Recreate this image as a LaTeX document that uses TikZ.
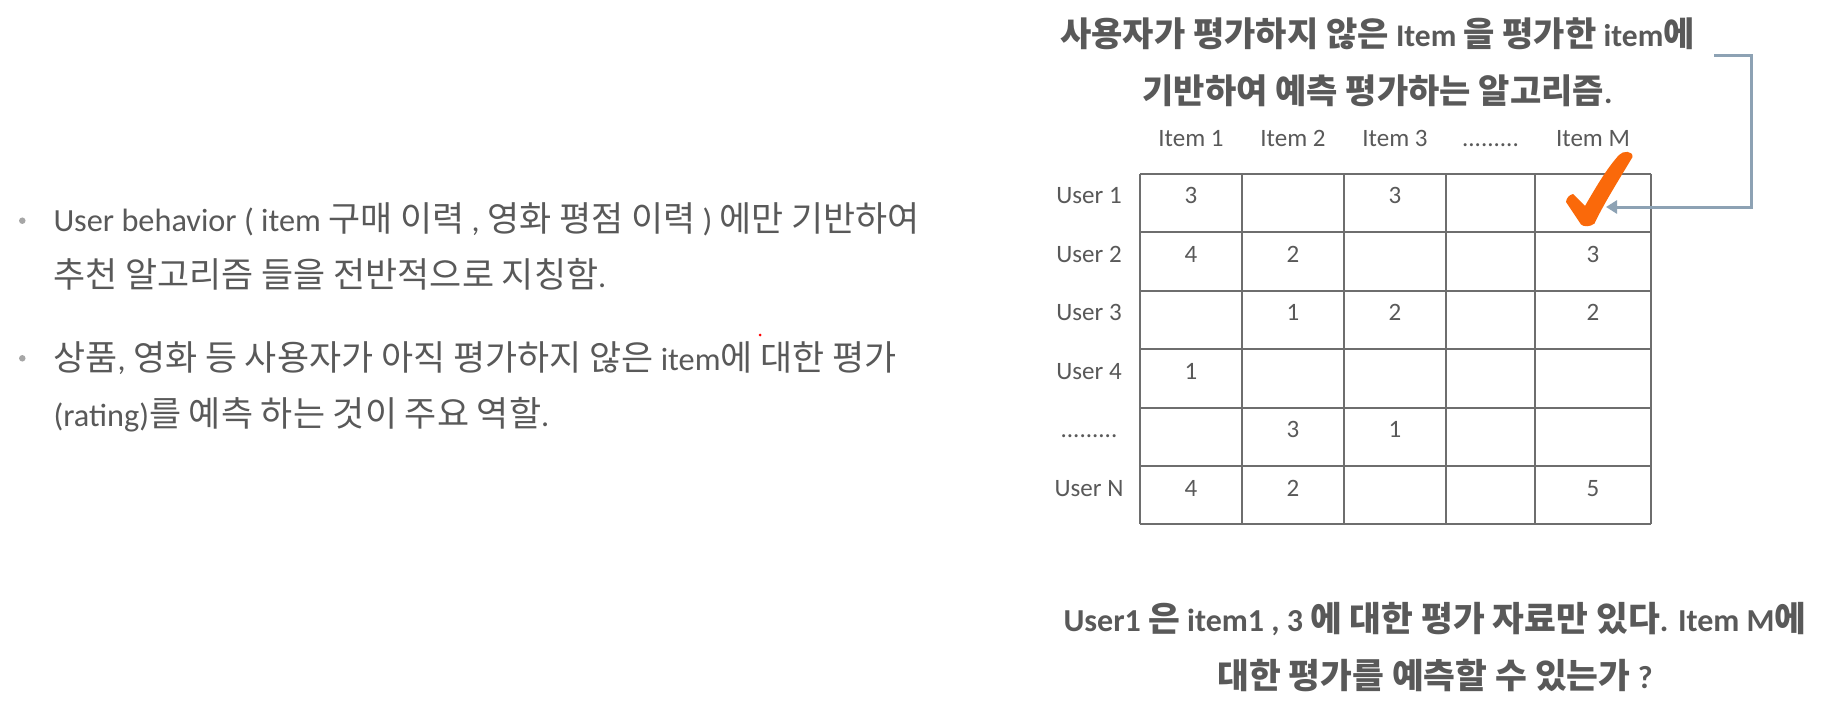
\documentclass[tikz,border=0pt]{standalone}
\usepackage{fontspec}
\setmainfont{Carlito}
\newfontfamily\kr[Scale=1.08]{Noto Sans CJK KR}
\usetikzlibrary{arrows.meta}
\definecolor{tc}{HTML}{595959}
\definecolor{gridc}{HTML}{6E6E6E}
\definecolor{arrc}{HTML}{8DA2B4}
\definecolor{chkc}{RGB}{250,105,10}
\definecolor{bulc}{HTML}{A6A6A6}
\newcommand\fsz[1]{\fontsize{#1}{#1}\selectfont}
\begin{document}
\begin{tikzpicture}[x=1pt,y=-1pt,
  txt/.style={text=tc, inner sep=0pt, outer sep=0pt},
  body/.style={txt, anchor=base west, font=\fsz{32.3}},
  head/.style={txt, anchor=base, font=\fsz{31.5}\bfseries},
  foot/.style={txt, anchor=base, font=\fsz{32}\bfseries},
  cell/.style={txt, anchor=base, font=\fsz{25}},
  gridline/.style={draw=gridc, line width=2.2pt},
  conn/.style={draw=arrc, line width=3pt, -{Triangle[length=11pt,width=13pt]}},
  bullet/.style={circle, fill=bulc, inner sep=0pt, minimum size=6.5pt}]
\useasboundingbox[fill=white] (0,0) rectangle (1824,706);

% left bullet text
\node[bullet] (b1) at (22.3,220.7) {};
\node[bullet] (b2) at (22.3,358.3) {};
\node[body] (l1) at (53.5,231) {User behavior ( item {\kr 구매 이력} , {\kr 영화 평점 이력} ) {\kr 에만 기반하여}};
\node[body] (l2) at (53.5,287.5) {{\kr 추천 알고리즘 들을 전반적으로 지칭함}.};
\node[body] (l3) at (53.5,370.5) {{\kr 상품}, {\kr 영화 등 사용자가 아직 평가하지 않은} item{\kr 에 대한 평가}};
\node[body] (l4) at (53.5,426.5) {(rating){\kr 를 예측 하는 것이 주요 역할}.};
\node[circle, fill=red, inner sep=0pt, minimum size=3pt] (rd) at (760,335) {};

% title
\node[head] (t1) at (1377.5,46.7) {{\kr 사용자가 평가하지 않은} Item {\kr 을 평가한} item{\kr 에}};
\node[head] (t2) at (1377.5,104) {{\kr 기반하여 예측 평가하는 알고리즘}.};

% column headers
\node[cell] (h1) at (1191,147) {Item 1};
\node[cell] (h2) at (1293,147) {Item 2};
\node[cell] (h3) at (1395,147) {Item 3};
\node[cell] (h4) at (1490.5,147) {.........};
\node[cell] (h5) at (1593,147) {Item M};

% row labels
\node[cell] (r1) at (1089,204) {User 1};
\node[cell] (r2) at (1089,262.3) {User 2};
\node[cell] (r3) at (1089,320.7) {User 3};
\node[cell] (r4) at (1089,379.3) {User 4};
\node[cell] (r5) at (1089,437.7) {.........};
\node[cell] (r6) at (1089,496.3) {User N};

% grid
\foreach \x in {1140,1242,1344,1446,1535,1651}
  \draw[gridline] (\x,174) -- (\x,524.3);
\foreach \y in {174,232.3,290.7,349.3,407.7,466,524.3}
  \draw[gridline] (1140,\y) -- (1651,\y);

% cell values
\node[cell] (v11) at (1191,204) {3};
\node[cell] (v13) at (1395,204) {3};
\node[cell] (v21) at (1191,262.3) {4};
\node[cell] (v22) at (1293,262.3) {2};
\node[cell] (v25) at (1593,262.3) {3};
\node[cell] (v32) at (1293,320.7) {1};
\node[cell] (v33) at (1395,320.7) {2};
\node[cell] (v35) at (1593,320.7) {2};
\node[cell] (v41) at (1191,379.3) {1};
\node[cell] (v52) at (1293,437.7) {3};
\node[cell] (v53) at (1395,437.7) {1};
\node[cell] (v61) at (1191,496.3) {4};
\node[cell] (v62) at (1293,496.3) {2};
\node[cell] (v65) at (1593,496.3) {5};

% check mark
\fill[chkc] (1566,202) .. controls (1566.5,198) and (1569,195) .. (1573,194)
  -- (1585,206)
  .. controls (1597,185) and (1608,167) .. (1619,155)
  .. controls (1623,150.5) and (1633,150.5) .. (1632.5,157)
  .. controls (1620,178) and (1603,205) .. (1594.5,223.5)
  .. controls (1590,227) and (1584,227) .. (1581,224.5) -- cycle;

% bracket arrow
\coordinate (brs) at (1714,56);
\coordinate (chk) at (1606,207);
\draw[conn] (brs) -- ++(37,0) |- (chk);

% bottom question
\node[foot] (f1) at (1435,631.7) {User1 {\kr 은} item1 , 3 {\kr 에 대한 평가 자료만 있다}. Item M{\kr 에}};
\node[foot] (f2) at (1435,688.3) {{\kr 대한 평가를 예측할 수 있는가} ?};
\end{tikzpicture}
\end{document}
